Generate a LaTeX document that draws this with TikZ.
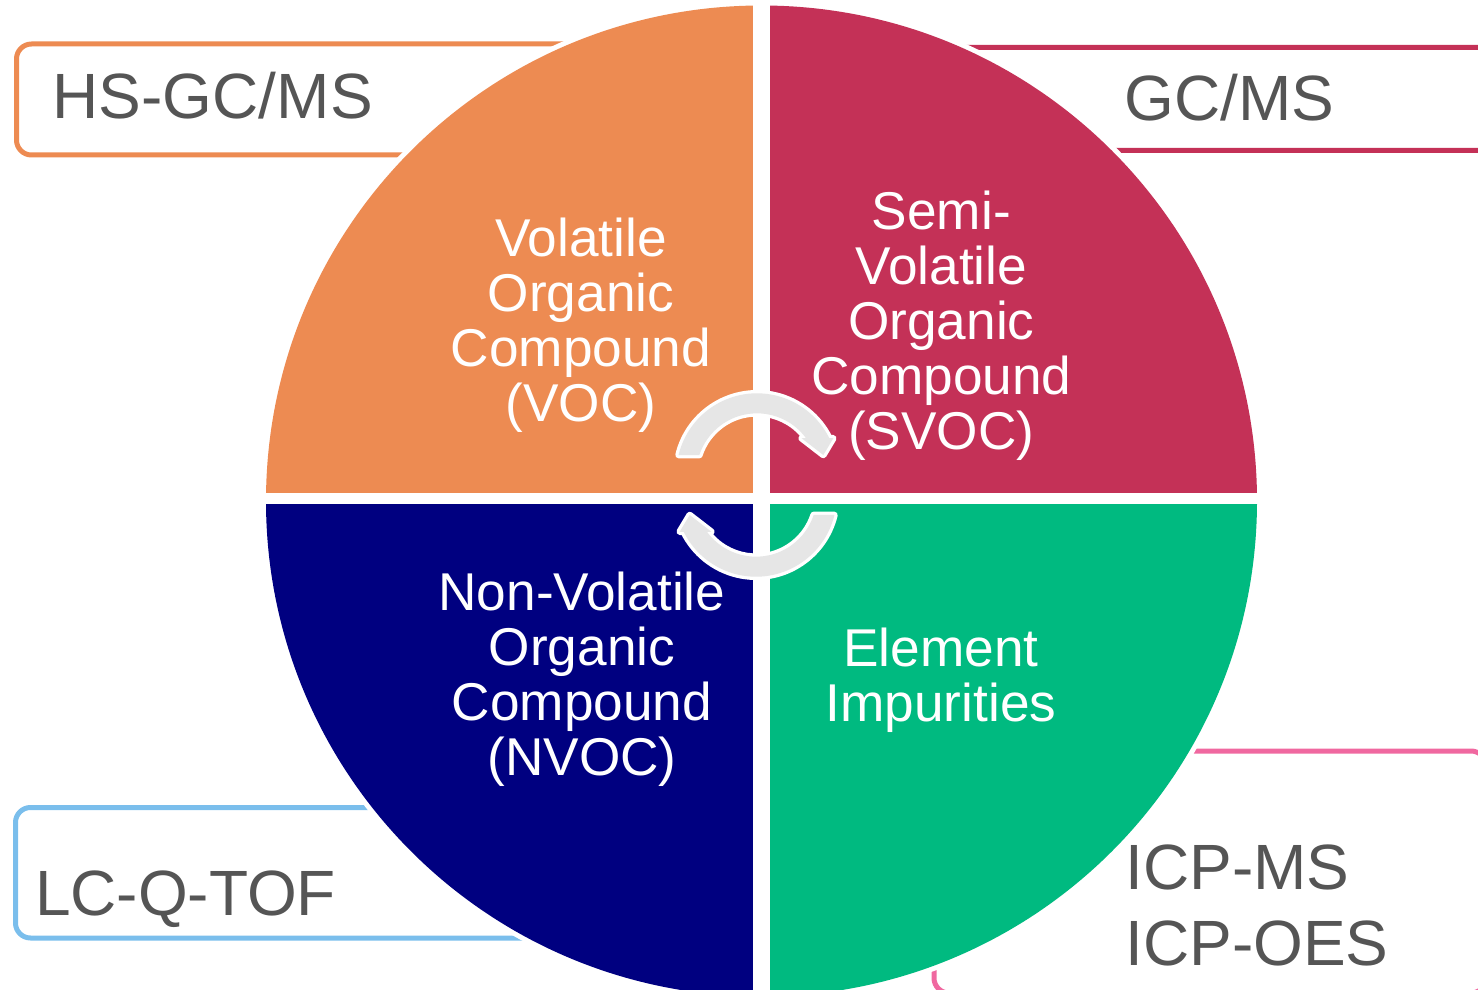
\documentclass[tikz,border=0pt]{standalone}
\usepackage{fontspec}
\setmainfont{Liberation Sans}
\usetikzlibrary{calc}
\definecolor{cOrange}{RGB}{237,139,82}
\definecolor{cRed}{RGB}{196,49,87}
\definecolor{cNavy}{RGB}{0,0,128}
\definecolor{cGreen}{RGB}{0,186,128}
\definecolor{cBlue}{RGB}{122,190,236}
\definecolor{cPink}{RGB}{240,104,160}
\definecolor{cText}{RGB}{85,85,85}
\definecolor{cArrow}{RGB}{230,230,230}
\begin{document}
\begin{tikzpicture}[x=0.5pt,y=-0.5pt,
  lbox/.style={line width=2.5pt, rounded corners=7.5pt},
  ltext/.style={text=cText, font=\fontsize{32}{38.35}\selectfont, inner sep=0pt},
  qtext/.style={text=white, font=\fontsize{26.6}{27.5}\selectfont, align=center, inner sep=0pt},
  cycarrow/.pic={
    \path[fill=white, draw=white, line width=3.3pt, line join=round]
      (-166.4:80.7) arc[start angle=-166.4,end angle=-26.5,radius=80.7]
      -- (76.3,-35.7) -- (66.3,-19) -- (44.7,-35.7)
      -- (-36.4:60.7) arc[start angle=-36.4,end angle=-161.8,radius=60.7] -- cycle;
    \fill[cArrow]
      (-166.4:80.7) arc[start angle=-166.4,end angle=-26.5,radius=80.7]
      -- (76.3,-35.7) -- (66.3,-19) -- (44.7,-35.7)
      -- (-36.4:60.7) arc[start angle=-36.4,end angle=-161.8,radius=60.7] -- cycle;
  }]
\useasboundingbox (0,0) rectangle (1478,990);
\clip (0,0) rectangle (1478,990);

% method boxes
\draw[lbox, draw=cOrange] (16.5,44) rectangle (600,155);
\draw[lbox, draw=cRed] (850,47.5) rectangle (1500,150.5);
\draw[lbox, draw=cBlue] (15.5,807.5) rectangle (650,938);
\draw[lbox, draw=cPink] (934,751) rectangle (1486,993);

% circle
\coordinate (C) at (761.5,501);
\fill[white] (C) circle[radius=500.5];
\begin{scope}
  \clip (C) circle[radius=495.5];
  \fill[cOrange] (0,0) rectangle (752.9,493.2);
  \fill[cRed] (769.9,0) rectangle (1478,493.2);
  \fill[cNavy] (0,504.2) rectangle (752.9,1000);
  \fill[cGreen] (769.9,504.2) rectangle (1478,1000);
\end{scope}

% cycle arrows
\pic at (757,474) {cycarrow};
\pic[rotate=180] at (756,496) {cycarrow};

% quadrant texts
\node[qtext] (voc) at (581,324.9) {Volatile\\Organic\\Compound\\(VOC)};
\node[qtext] (svoc) at (941.3,326) {Semi-\\Volatile\\Organic\\Compound\\(SVOC)};
\node[qtext] (nvoc) at (582,678.9) {Non-Volatile\\Organic\\Compound\\(NVOC)};
\node[qtext] (elem) at (941,679.9) {Element\\Impurities};

% method labels
\node[ltext, anchor=base west] (hs) at (52.3,118.3) {HS-GC/MS};
\node[ltext, anchor=base west] (gc) at (1123.8,121) {GC/MS};
\node[ltext, anchor=base west] (lc) at (34.6,915.7) {LC-Q-TOF};
\node[ltext, anchor=west, align=left] (icp) at (1125,905.6) {ICP-MS\\ICP-OES};
\end{tikzpicture}
\end{document}
